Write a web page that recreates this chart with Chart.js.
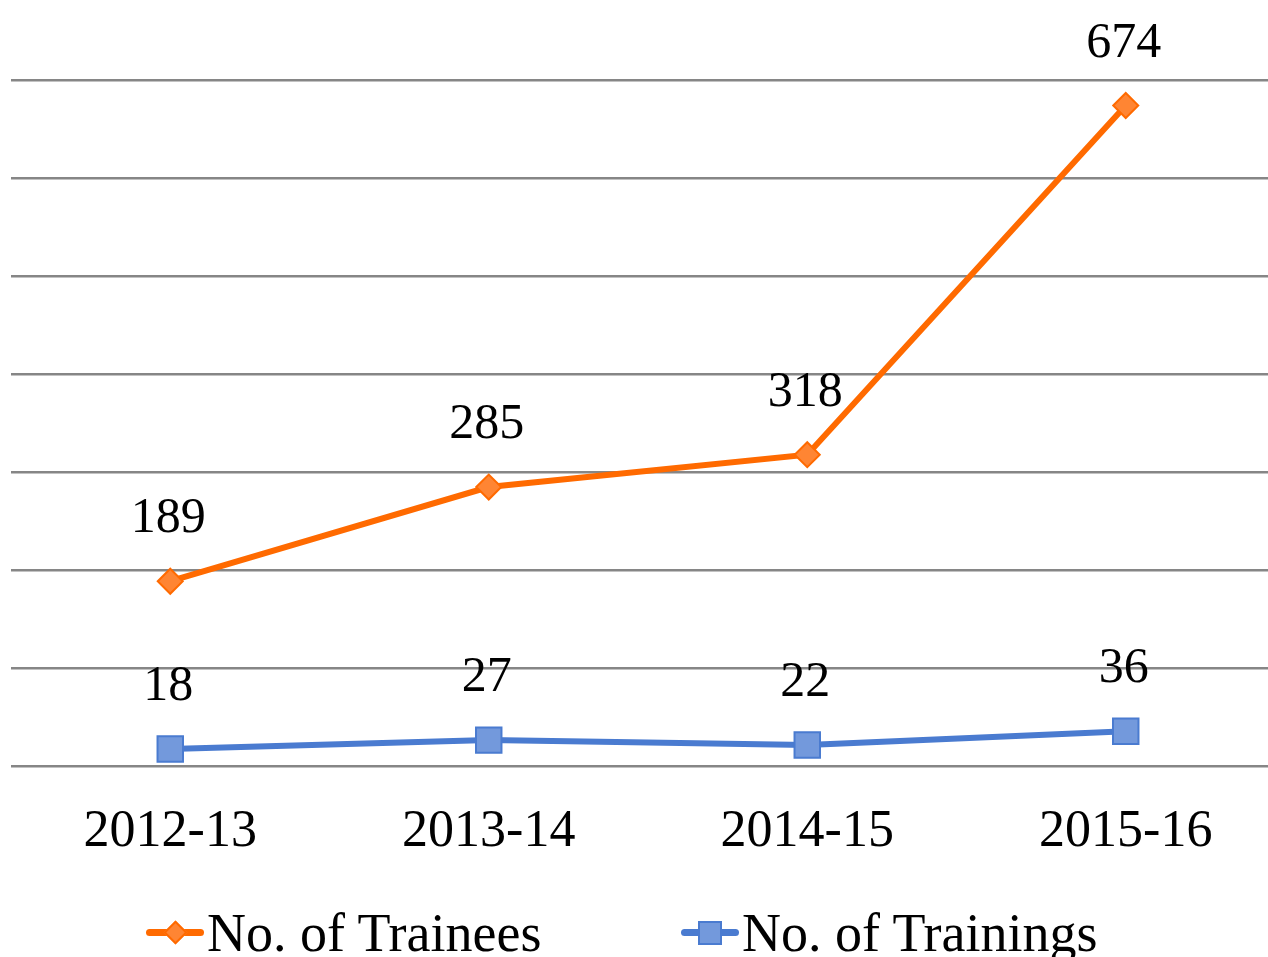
<!DOCTYPE html>
<html lang="en">
<head>
    <meta charset="UTF-8">
    <title>No. of Trainees and Trainings</title>
    <script src="https://cdn.jsdelivr.net/npm/chart.js@4.4.0/dist/chart.umd.min.js"></script>
    <style>
        html, body {
            margin: 0;
            padding: 0;
            background: #fff;
            overflow: hidden;
        }
        .wrap {
            position: relative;
            width: 1268px;
            height: 957px;
            overflow: hidden;
        }
        canvas {
            display: block;
            margin-left: -9px;
        }
        .legend-item {
            position: absolute;
            top: 903px;
            height: 60px;
            display: flex;
            align-items: center;
            font-family: 'Liberation Serif', 'Times New Roman', serif;
            font-size: 54px;
            line-height: 60px;
            color: #000;
            white-space: nowrap;
        }
        .icon {
            position: relative;
            width: 60px;
            height: 30px;
            margin-right: 2px;
        }
        .icon .ln {
            position: absolute;
            left: 1px;
            right: 1px;
            top: 11px;
            height: 7px;
            border-radius: 4px;
        }
        .icon .mk {
            position: absolute;
            box-sizing: border-box;
            border-width: 2px;
            border-style: solid;
        }
        .diamond {
            left: 22px;
            top: 6px;
            width: 17px;
            height: 17px;
            transform: rotate(45deg);
        }
        .square {
            left: 18px;
            top: 3px;
            width: 24px;
            height: 24px;
        }
    </style>
</head>
<body>
    <div class="wrap">
        <canvas id="trainChart" width="1314" height="957"></canvas>
        <div class="legend-item" id="leg0" style="left:145px"></div>
        <div class="legend-item" id="leg1" style="left:680px"></div>
    </div>

    <script>
        const years = ['2012-13', '2013-14', '2014-15', '2015-16'];
        const trainees = [189, 285, 318, 674];
        const trainings = [18, 27, 22, 36];
        const seriesNames = ['No. of Trainees', 'No. of Trainings'];

        const serif = "'Liberation Serif', 'Times New Roman', serif";
        const orange = '#ff6a00';
        const orangeFill = '#ff8533';
        const blue = '#4a7bd0';
        const blueFill = '#7399dc';

        // value labels above each point
        const valueLabels = {
            id: 'valueLabels',
            afterDatasetsDraw(chart) {
                const ctx = chart.ctx;
                ctx.save();
                ctx.font = '50px ' + serif;
                ctx.fillStyle = '#000';
                ctx.textAlign = 'center';
                ctx.textBaseline = 'middle';
                chart.data.datasets.forEach((ds, i) => {
                    chart.getDatasetMeta(i).data.forEach((pt, j) => {
                        ctx.fillText(ds.data[j], pt.x - 2, pt.y - 62);
                    });
                });
                ctx.restore();
            }
        };

        const ctx = document.getElementById('trainChart').getContext('2d');
        const chart = new Chart(ctx, {
            type: 'line',
            data: {
                labels: years,
                datasets: [{
                    label: seriesNames[0],
                    data: trainees,
                    borderColor: orange,
                    backgroundColor: orangeFill,
                    borderWidth: 6,
                    pointStyle: 'rectRot',
                    pointRadius: 12.5,
                    pointBorderWidth: 2,
                    pointBorderColor: orange,
                    pointBackgroundColor: orangeFill,
                    tension: 0
                }, {
                    label: seriesNames[1],
                    data: trainings,
                    borderColor: blue,
                    backgroundColor: blueFill,
                    borderWidth: 6,
                    pointStyle: 'rect',
                    pointRadius: 18,
                    pointBorderWidth: 2,
                    pointBorderColor: blue,
                    pointBackgroundColor: blueFill,
                    tension: 0
                }]
            },
            options: {
                responsive: false,
                animation: false,
                layout: {
                    padding: { top: 80, left: 2, right: 6, bottom: 66 }
                },
                plugins: {
                    tooltip: { enabled: false },
                    legend: { display: false }
                },
                scales: {
                    x: {
                        offset: true,
                        grid: { display: false },
                        border: { display: false },
                        ticks: {
                            color: '#000',
                            padding: 27,
                            font: { family: serif, size: 52 }
                        }
                    },
                    y: {
                        min: 0,
                        max: 700,
                        ticks: { display: false, stepSize: 100 },
                        border: { display: false },
                        grid: {
                            color: '#868686',
                            lineWidth: 2.5,
                            drawTicks: false
                        }
                    }
                }
            },
            plugins: [valueLabels]
        });

        // legend under the chart, built from the datasets
        chart.data.datasets.forEach((ds, i) => {
            const el = document.getElementById('leg' + i);
            const shape = i === 0 ? 'diamond' : 'square';
            el.innerHTML =
                '<span class="icon">' +
                '<span class="ln" style="background:' + ds.borderColor + '"></span>' +
                '<span class="mk ' + shape + '" style="background:' + ds.backgroundColor +
                ';border-color:' + ds.borderColor + '"></span>' +
                '</span><span>' + ds.label + '</span>';
        });
    </script>
</body>
</html>
